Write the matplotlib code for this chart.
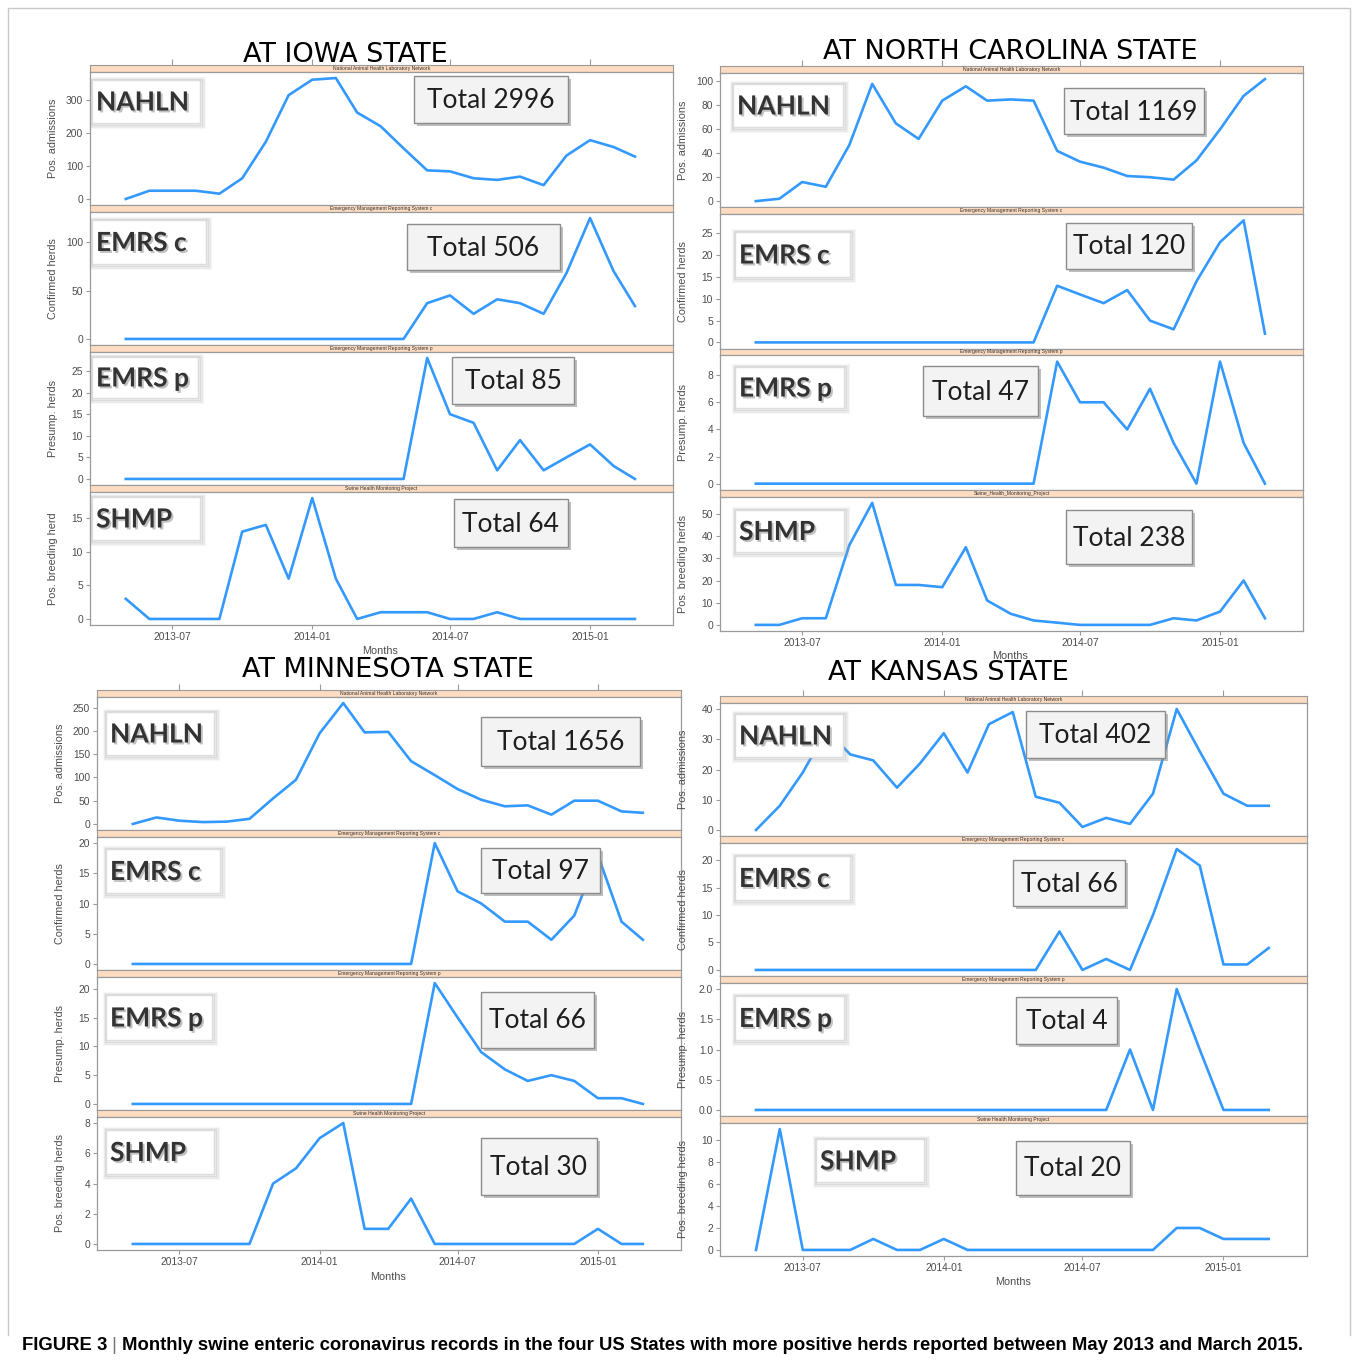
import matplotlib
matplotlib.use('Agg')
import matplotlib.pyplot as plt
import matplotlib.patheffects as pe
from matplotlib.patches import Rectangle
from matplotlib.ticker import FormatStrFormatter
import pandas as pd

W, H = 1357, 1363

# ---------------- data ----------------
months = pd.date_range('2013-05-01', '2015-03-01', freq='MS')
tick_dates = pd.to_datetime(['2013-07-01', '2014-01-01', '2014-07-01', '2015-01-01'])
tick_labels = ['2013-07', '2014-01', '2014-07', '2015-01']

panel_names = ['NAHLN', 'EMRS c', 'EMRS p', 'SHMP']
strip_texts = ['National Animal Health Laboratory Network',
               'Emergency Management Reporting System c',
               'Emergency Management Reporting System p',
               'Swine Health Monitoring Project']
strip_texts_nc = ['National Animal Health Laboratory Network',
                  'Emergency Management Reporting System c',
                  'Emergency Management Reporting System p',
                  'Swine_Health_Monitoring_Project']
ylabels = ['Pos. admissions', 'Confirmed herds', 'Presump. herds', 'Pos. breeding herds']
ylabels_iowa = ['Pos. admissions', 'Confirmed herds', 'Presump. herds', 'Pos. breeding herd']

iowa_nahln = [0, 25, 25, 25, 16, 63, 174, 316, 363, 368, 263, 221, 154, 87, 84, 63, 58, 68, 42, 132, 179, 158, 129]
iowa_emrsc = [0, 0, 0, 0, 0, 0, 0, 0, 0, 0, 0, 0, 0, 37, 45, 26, 41, 37, 26, 68, 125, 70, 34]
iowa_emrsp = [0, 0, 0, 0, 0, 0, 0, 0, 0, 0, 0, 0, 0, 28, 15, 13, 2, 9, 2, 5, 8, 3, 0]
iowa_shmp = [3, 0, 0, 0, 0, 13, 14, 6, 18, 6, 0, 1, 1, 1, 0, 0, 1, 0, 0, 0, 0, 0, 0]
iowa_totals = [2996, 506, 85, 64]

nc_nahln = [0, 2, 16, 12, 47, 98, 65, 52, 84, 96, 84, 85, 84, 42, 33, 28, 21, 20, 18, 34, 60, 88, 102]
nc_emrsc = [0, 0, 0, 0, 0, 0, 0, 0, 0, 0, 0, 0, 0, 13, 11, 9, 12, 5, 3, 14, 23, 28, 2]
nc_emrsp = [0, 0, 0, 0, 0, 0, 0, 0, 0, 0, 0, 0, 0, 9, 6, 6, 4, 7, 3, 0, 9, 3, 0]
nc_shmp = [0, 0, 3, 3, 36, 55, 18, 18, 17, 35, 11, 5, 2, 1, 0, 0, 0, 0, 3, 2, 6, 20, 3]
nc_totals = [1169, 120, 47, 238]

mn_nahln = [0, 14, 7, 4, 5, 11, 55, 95, 195, 260, 197, 198, 135, 105, 75, 52, 38, 40, 20, 50, 50, 27, 24]
mn_emrsc = [0, 0, 0, 0, 0, 0, 0, 0, 0, 0, 0, 0, 0, 20, 12, 10, 7, 7, 4, 8, 18, 7, 4]
mn_emrsp = [0, 0, 0, 0, 0, 0, 0, 0, 0, 0, 0, 0, 0, 21, 15, 9, 6, 4, 5, 4, 1, 1, 0]
mn_shmp = [0, 0, 0, 0, 0, 0, 4, 5, 7, 8, 1, 1, 3, 0, 0, 0, 0, 0, 0, 0, 1, 0, 0]
mn_totals = [1656, 97, 66, 30]

ks_nahln = [0, 8, 19, 33, 25, 23, 14, 22, 32, 19, 35, 39, 11, 9, 1, 4, 2, 12, 40, 26, 12, 8, 8]
ks_emrsc = [0, 0, 0, 0, 0, 0, 0, 0, 0, 0, 0, 0, 0, 7, 0, 2, 0, 10, 22, 19, 1, 1, 4]
ks_emrsp = [0, 0, 0, 0, 0, 0, 0, 0, 0, 0, 0, 0, 0, 0, 0, 0, 1, 0, 2, 1, 0, 0, 0]
ks_shmp = [0, 11, 0, 0, 0, 1, 0, 0, 1, 0, 0, 0, 0, 0, 0, 0, 0, 0, 2, 2, 1, 1, 1]
ks_totals = [402, 66, 4, 20]

iowa_yticks = [[0, 100, 200, 300], [0, 50, 100], [0, 5, 10, 15, 20, 25], [0, 5, 10, 15]]
nc_yticks = [[0, 20, 40, 60, 80, 100], [0, 5, 10, 15, 20, 25], [0, 2, 4, 6, 8], [0, 10, 20, 30, 40, 50]]
mn_yticks = [[0, 50, 100, 150, 200, 250], [0, 5, 10, 15, 20], [0, 5, 10, 15, 20], [0, 2, 4, 6, 8]]
ks_yticks = [[0, 10, 20, 30, 40], [0, 5, 10, 15, 20], [0.0, 0.5, 1.0, 1.5, 2.0], [0, 2, 4, 6, 8, 10]]

# ---------------- layout (pixels) ----------------
quads = [
    dict(title='AT IOWA STATE', series=[iowa_nahln, iowa_emrsc, iowa_emrsp, iowa_shmp],
         totals=iowa_totals, yticks=iowa_yticks, ylabels=ylabels_iowa, strips=strip_texts,
         x0=90, x1=673, y0=65, y1=625, title_xy=(345, 55), months_xy=(380, 651),
         lab=[(92, 80, 200, 123), (92, 220, 206, 264), (92, 357, 198, 398), (92, 497, 200, 540)],
         tot=[(414, 76, 568, 123), (407, 224, 560, 270), (452, 357, 574, 404), (454, 499, 568, 547)]),
    dict(title='AT NORTH CAROLINA STATE', series=[nc_nahln, nc_emrsc, nc_emrsp, nc_shmp],
         totals=nc_totals, yticks=nc_yticks, ylabels=ylabels, strips=strip_texts_nc,
         x0=720, x1=1303, y0=66, y1=631, title_xy=(1010, 52), months_xy=(1010, 656),
         lab=[(733, 84, 843, 127), (735, 232, 850, 277), (735, 367, 844, 408), (735, 510, 844, 552)],
         tot=[(1064, 88, 1204, 134), (1066, 223, 1192, 269), (923, 366, 1038, 416), (1066, 510, 1192, 564)]),
    dict(title='AT MINNESOTA STATE', series=[mn_nahln, mn_emrsc, mn_emrsp, mn_shmp],
         totals=mn_totals, yticks=mn_yticks, ylabels=ylabels, strips=strip_texts,
         x0=97, x1=681, y0=690, y1=1250, title_xy=(388, 670), months_xy=(388, 1277),
         lab=[(106, 712, 214, 755), (106, 849, 220, 893), (106, 995, 212, 1040), (106, 1130, 214, 1174)],
         tot=[(481, 717, 640, 766), (481, 848, 600, 893), (481, 992, 594, 1048), (481, 1138, 597, 1195)]),
    dict(title='AT KANSAS STATE', series=[ks_nahln, ks_emrsc, ks_emrsp, ks_shmp],
         totals=ks_totals, yticks=ks_yticks, ylabels=ylabels, strips=strip_texts,
         x0=720, x1=1307, y0=696, y1=1256, title_xy=(948, 673), months_xy=(1013, 1282),
         lab=[(735, 714, 843, 757), (735, 856, 850, 900), (735, 996, 844, 1040), (816, 1139, 924, 1182)],
         tot=[(1026, 711, 1165, 758), (1013, 860, 1125, 906), (1016, 997, 1117, 1044), (1016, 1141, 1130, 1195)]),
]

LINE = '#3399ff'
STRIP = '#fddcc1'
EDGE = '#9a9a9a'
TXT = '#4d4d4d'
AXFONT = 'Liberation Sans'
BOXFONT = 'Lato'

fig = plt.figure(figsize=(W / 100, H / 100), dpi=100)
fig.patch.set_facecolor('white')


def px_rect(x0, y0, x1, y1):
    return [x0 / W, 1 - y1 / H, (x1 - x0) / W, (y1 - y0) / H]


xlo = months[0] - pd.Timedelta(days=47)
xhi = months[-1] + pd.Timedelta(days=50)

for q in quads:
    unit = (q['y1'] - q['y0']) / 4.0
    sh = 7
    for i in range(4):
        top = q['y0'] + i * unit
        sax = fig.add_axes(px_rect(q['x0'], top, q['x1'], top + sh))
        sax.set_facecolor(STRIP)
        sax.set_xlim(xlo, xhi)
        sax.set_ylim(0, 1)
        sax.set_yticks([])
        if i == 0:
            sax.set_xticks(tick_dates)
            sax.tick_params(axis='x', top=True, bottom=False, labeltop=False, labelbottom=False,
                            length=4, color=EDGE, width=0.8)
        else:
            sax.set_xticks([])
        for s in sax.spines.values():
            s.set_color(EDGE)
            s.set_linewidth(0.8)
        sax.text(0.5, 0.5, q['strips'][i], transform=sax.transAxes, ha='center', va='center',
                 fontsize=3.6, color='#333333', family=AXFONT)

        pax = fig.add_axes(px_rect(q['x0'], top + sh, q['x1'], top + unit))
        vals = q['series'][i]
        pax.plot(months, vals, color=LINE, lw=1.9, solid_joinstyle='round')
        lo, hi = min(vals), max(vals)
        pad = 0.05 * (hi - lo)
        pax.set_ylim(lo - pad, hi + pad)
        pax.set_xlim(xlo, xhi)
        pax.set_yticks(q['yticks'][i])
        if q['title'] == 'AT KANSAS STATE' and i == 2:
            pax.yaxis.set_major_formatter(FormatStrFormatter('%.1f'))
        pax.tick_params(axis='y', length=3, color=EDGE, width=0.8, labelsize=7.4,
                        labelcolor=TXT, pad=2)
        for lbl in pax.get_yticklabels():
            lbl.set_family(AXFONT)
        pax.set_ylabel(q['ylabels'][i], fontsize=7.8, color=TXT, family=AXFONT)
        pax.yaxis.set_label_coords(-32.0 / (q['x1'] - q['x0']), 0.5)
        if i == 3:
            pax.set_xticks(tick_dates)
            pax.set_xticklabels(tick_labels, family=AXFONT)
            pax.tick_params(axis='x', length=3, color=EDGE, width=0.8, labelsize=7.4,
                            labelcolor=TXT, pad=2)
        else:
            pax.set_xticks([])
        for s in pax.spines.values():
            s.set_color(EDGE)
            s.set_linewidth(0.9)

# ---------------- overlay (boxes, titles, caption) ----------------
ov = fig.add_axes([0, 0, 1, 1], zorder=10)
ov.set_xlim(0, W)
ov.set_ylim(H, 0)
ov.axis('off')

# outer frame
ov.plot([8, 8, 1350, 1350], [1335, 8, 8, 1335], color='#c8c8c8', lw=1.0)

for q in quads:
    ov.text(q['title_xy'][0], q['title_xy'][1], q['title'], ha='center', va='center',
            fontsize=19.5, color='black', family='DejaVu Sans')
    ov.text(q['months_xy'][0], q['months_xy'][1], 'Months', ha='center', va='center',
            fontsize=7.8, color=TXT, family=AXFONT)
    for i in range(4):
        x0, y0, x1, y1 = q['lab'][i]
        # soft glow around label box
        for k, a in [(5, 0.08), (3.5, 0.14), (2, 0.22)]:
            ov.add_patch(Rectangle((x0 - k / 2 + 1, y0 - k / 2 + 1), x1 - x0 + k, y1 - y0 + k,
                                   facecolor='none', edgecolor='#9a9a9a', lw=k * 0.6, alpha=a))
        ov.add_patch(Rectangle((x0, y0), x1 - x0, y1 - y0, facecolor='white',
                               edgecolor='#dcdcdc', lw=1.0))
        ov.text(x0 + 4, (y0 + y1) / 2 + 1, panel_names[i], ha='left', va='center',
                fontsize=19, fontweight='bold', color='#333333', family=BOXFONT,
                path_effects=[pe.withSimplePatchShadow(offset=(1.4, -1.4),
                                                       shadow_rgbFace='#777777', alpha=0.45)])

        x0, y0, x1, y1 = q['tot'][i]
        ov.add_patch(Rectangle((x0 + 3, y0 + 3), x1 - x0, y1 - y0, facecolor='#8a8a8a',
                               edgecolor='none', alpha=0.55))
        ov.add_patch(Rectangle((x0, y0), x1 - x0, y1 - y0, facecolor='#f3f3f3',
                               edgecolor='#8c8c8c', lw=1.0))
        ov.text((x0 + x1) / 2, (y0 + y1) / 2 + 1, 'Total %d' % q['totals'][i], ha='center',
                va='center', fontsize=19, color='#1e1e1e', family=BOXFONT)

# caption
CAP = 13.3
t1 = ov.text(22, 1345, 'FIGURE 3', ha='left', va='center', fontsize=CAP,
             fontweight='bold', color='black', family=AXFONT)
t2 = ov.annotate(' | ', xy=(1, 0), xycoords=t1, ha='left', va='bottom', fontsize=CAP,
                 color='#777777', family=AXFONT)
ov.annotate('Monthly swine enteric coronavirus records in the four US States with more positive '
            'herds reported between May 2013 and March 2015.', xy=(1, 0), xycoords=t2,
            ha='left', va='bottom', fontsize=CAP, fontweight='bold', color='black', family=AXFONT)

fig.savefig('out.png', dpi=100, facecolor='white')
